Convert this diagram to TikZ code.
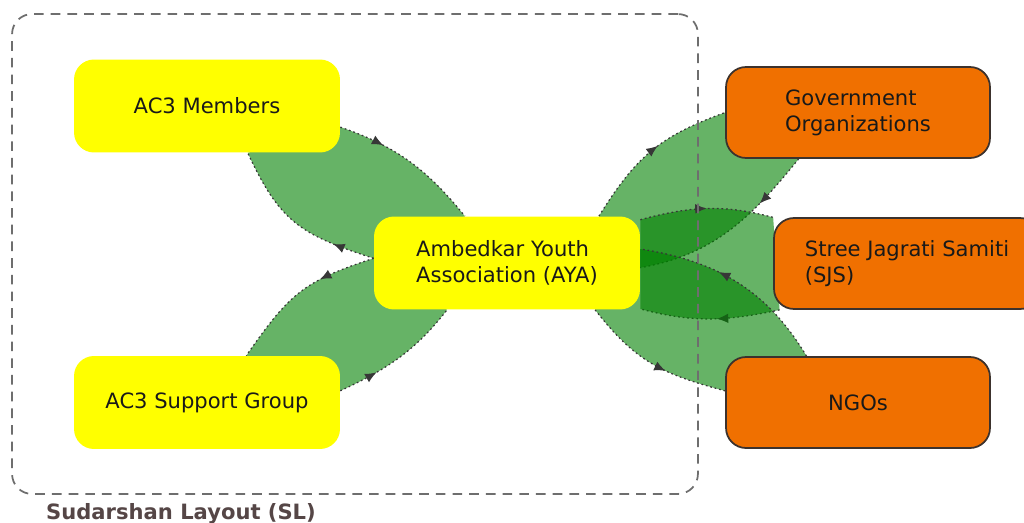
\documentclass[tikz,border=0pt]{standalone}
\usepackage{fontspec}
\setmainfont{DejaVu Sans}
\usetikzlibrary{arrows.meta,decorations.markings,backgrounds}

\definecolor{lensgreen}{RGB}{0,128,0}
\definecolor{boxyellow}{RGB}{255,255,0}
\definecolor{boxorange}{RGB}{240,112,0}
\definecolor{boxline}{RGB}{60,50,45}
\definecolor{boxtext}{RGB}{25,25,25}
\definecolor{framegray}{RGB}{110,110,110}
\definecolor{labelbrown}{RGB}{85,70,70}
\definecolor{flowgray}{RGB}{55,55,55}

\begin{document}
\begin{tikzpicture}[x=0.02cm, y=0.02cm, >=Latex,
    box/.style={rectangle, rounded corners=0.4cm, minimum width=5.32cm, minimum height=1.86cm, align=left, font=\fontsize{12}{14.8}\selectfont, text=boxtext},
    local/.style={box, fill=boxyellow},
    partner/.style={box, fill=boxorange, draw=boxline, line width=1pt, minimum width=5.28cm, minimum height=1.82cm},
    frame/.style={draw=framegray, dash pattern=on 5.5pt off 4pt, line width=1pt, rounded corners=0.4cm, minimum width=13.72cm, minimum height=9.6cm},
    lens/.style={fill=lensgreen, fill opacity=0.6},
    flow/.style={draw=flowgray, line width=0.7pt, dash pattern=on 1pt off 1.6pt, postaction={decorate},
        decoration={markings, mark=at position #1 with {\arrow{Latex[length=6.5pt,width=5.5pt]}}}}]

    \useasboundingbox (0,0) rectangle (1024,522);

    % Sudarshan Layout
    \node [frame] (sl) at (355,268) {};
    \node [anchor=base west, font=\bfseries\fontsize{12}{14}\selectfont, text=labelbrown] (sllabel) at (40,3) {Sudarshan Layout (SL)};

    % Nodes
    \node [local] (mem) at (207,416) {AC3 Members};
    \node [local] (sup) at (207,119.5) {AC3 Support Group};
    \node [local] (aya) at (507,259) {Ambedkar Youth\\Association (AYA)};
    \node [partner] (gov) at (858,409.5) {Government\\Organizations};
    \node [partner, minimum width=5.32cm] (sjs) at (907,258.5) {Stree Jagrati Samiti\\(SJS)};
    \node [partner] (ngo) at (858,119.5) {NGOs};

    \begin{pgfonlayer}{background}
    % AC3 Members <-> AYA
    \fill [lens] (mem.-9) to[out=-19, in=129] (aya.132) -- (aya.178) to[out=162, in=-65, looseness=1.2] (mem.-49) -- cycle;
    \draw [flow=0.3] (mem.-9) to[out=-19, in=129] (aya.132);
    \draw [flow=0.25] (aya.178) to[out=162, in=-65, looseness=1.2] (mem.-49);

    % AC3 Support Group <-> AYA
    \fill [lens] (aya.178) to[out=198, in=55, looseness=1.2] (sup.50) -- (sup.5) to[out=25, in=-128] (aya.218) -- cycle;
    \draw [flow=0.35] (aya.178) to[out=198, in=55, looseness=1.2] (sup.50);
    \draw [flow=0.3] (sup.5) to[out=25, in=-128] (aya.218);

    % Government Organizations <-> AYA
    \fill [lens] (aya.27) to[out=58, in=200, looseness=1.1] (gov.180) -- (gov.218) to[out=231, in=10] (aya.-2) -- cycle;
    \draw [flow=0.55] (aya.27) to[out=58, in=200, looseness=1.1] (gov.180);
    \draw [flow=0.3] (gov.218) to[out=231, in=10] (aya.-2);

    % SJS <-> AYA
    \fill [lens] (aya.18) to[out=15, in=165] (sjs.161) -- (sjs.200) to[out=192, in=-15] (aya.-19) -- cycle;
    \draw [flow=0.5] (aya.18) to[out=15, in=165] (sjs.161);
    \draw [flow=0.45] (sjs.200) to[out=192, in=-15] (aya.-19);

    % NGOs <-> AYA
    \fill [lens] (aya.-28) to[out=-52, in=165, looseness=1.1] (ngo.175) -- (ngo.138) to[out=121, in=-9] (aya.6) -- cycle;
    \draw [flow=0.6] (aya.-28) to[out=-52, in=165, looseness=1.1] (ngo.175);
    \draw [flow=0.6] (ngo.138) to[out=121, in=-9] (aya.6);
    \end{pgfonlayer}

\end{tikzpicture}
\end{document}
